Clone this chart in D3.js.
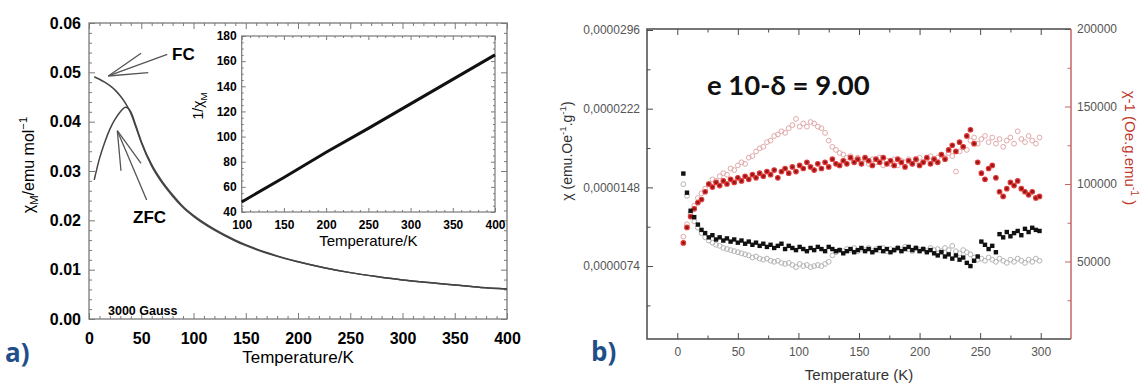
<!DOCTYPE html>
<html><head><meta charset="utf-8">
<script src="https://cdn.jsdelivr.net/npm/d3@7"></script>
<style>body{margin:0;background:#fff}</style>
</head><body>
<svg id="c" width="1142" height="383"></svg>
<script>
// ---------- Panel a data ----------
const tempA = [5,10,15,20,25,30,35,40,45,50,60,70,80,90,100,120,140,160,180,200,225,250,275,300,325,350,375,400];
const chiFC = [0.0491,0.0486,0.0480,0.0473,0.0464,0.0452,0.0437,0.0417,0.0388,0.0358,0.0310,0.0276,0.0249,0.0226,0.0208,0.0180,0.0158,0.0141,0.0127,0.0116,0.0104,0.0094,0.0086,0.0079,0.0074,0.0069,0.0064,0.0061];
const chiZFC = [0.0282,0.0325,0.0358,0.0385,0.0405,0.0420,0.0429,0.0420,0.0391,0.0360,0.0313,0.0279,0.0252,0.0228,0.0210,0.0182,0.0160,0.0142,0.0128,0.0116,0.0104,0.0094,0.0086,0.0079,0.0074,0.0069,0.0064,0.0061];
const tempInset = [100,150,200,250,300,350,400];
const invChiInset = [48,67.5,87.5,106.5,126,145.5,165];
const xTicksA = [0,50,100,150,200,250,300,350,400];
const yTicksA = [0,0.01,0.02,0.03,0.04,0.05,0.06];
const xTicksInset = [100,150,200,250,300,350,400];
const yTicksInset = [40,60,80,100,120,140,160,180];

// ---------- Panel b data ----------
const tempB = [5,8,11,14,17,20,23,26,29,32,35,38,41,44,47,50,53,56,59,62,65,68,71,74,77,80,83,86,89,92,95,98,101,104,107,110,113,116,119,122,125,128,131,134,137,140,143,146,149,152,155,158,161,164,167,170,173,176,179,182,185,188,191,194,197,200,203,206,209,212,215,218,221,224,227,230,233,236,239,242,245,248,251,254,257,260,263,266,269,272,275,278,281,284,287,290,293,296,299];
// chi^-1 (filled red)
const invChiB1 = [62000,72000,79000,84000,88000,90000,95000,100000,98000,101000,
 99000,102000,100000,103000,101000,104000,102000,105000,103000,106000,
 104000,107000,105000,108000,106000,109000,104000,108000,110000,107000,
 111000,108000,112000,110000,114000,111000,109000,113000,110000,114000,
 111000,116000,113000,112000,115000,113000,117000,114000,116000,113000,
 117000,115000,112000,116000,114000,117000,113000,115000,112000,116000,
 114000,111000,115000,113000,116000,112000,114000,117000,113000,116000,
 114000,119000,116000,122000,125000,121000,127000,124000,131000,135000,
 126000,114000,107000,103000,110000,112000,104000,95000,92000,97000,
 101000,99000,102000,97000,95000,93000,95000,91000,92000];
// chi^-1 (open pink)
const invChiB2 = [66000,74000,80000,86000,91000,94000,97000,100000,103000,102000,
 105000,107000,106000,110000,109000,112000,114000,113000,117000,118000,
 121000,123000,124000,127000,128000,131000,132000,134000,133000,136000,
 138000,142000,137000,139000,137000,140000,139000,137000,136000,133000,
 128000,124000,122000,120000,119000,117000,118000,115000,117000,114000,
 116000,113000,116000,114000,117000,112000,115000,113000,116000,112000,
 115000,114000,116000,113000,115000,117000,114000,116000,118000,115000,
 117000,119000,117000,120000,118000,108000,121000,124000,122000,128000,
 130000,126000,129000,131000,127000,130000,126000,129000,124000,128000,
 130000,126000,134000,129000,127000,131000,128000,126000,130000];
// chi (filled black)
const chiB1 = [1.61e-5,1.43e-5,1.26e-5,1.20e-5,1.13e-5,1.08e-5,1.05e-5,1.01e-5,1.03e-5,0.99e-5,
 1.01e-5,0.98e-5,1.00e-5,0.97e-5,0.99e-5,0.96e-5,0.98e-5,0.95e-5,0.97e-5,0.94e-5,
 0.96e-5,0.93e-5,0.95e-5,0.92e-5,0.94e-5,0.91e-5,0.93e-5,0.95e-5,0.90e-5,0.93e-5,
 0.91e-5,0.89e-5,0.92e-5,0.90e-5,0.88e-5,0.91e-5,0.89e-5,0.92e-5,0.90e-5,0.88e-5,
 0.92e-5,0.90e-5,0.88e-5,0.89e-5,0.86e-5,0.88e-5,0.90e-5,0.87e-5,0.89e-5,0.91e-5,
 0.88e-5,0.90e-5,0.87e-5,0.89e-5,0.91e-5,0.88e-5,0.90e-5,0.87e-5,0.89e-5,0.91e-5,
 0.88e-5,0.90e-5,0.92e-5,0.89e-5,0.91e-5,0.88e-5,0.90e-5,0.87e-5,0.89e-5,0.86e-5,
 0.84e-5,0.87e-5,0.83e-5,0.85e-5,0.81e-5,0.84e-5,0.80e-5,0.82e-5,0.77e-5,0.74e-5,
 0.79e-5,0.83e-5,0.97e-5,0.94e-5,0.90e-5,0.93e-5,0.87e-5,1.04e-5,1.01e-5,1.06e-5,
 1.02e-5,1.05e-5,1.07e-5,1.03e-5,1.09e-5,1.06e-5,1.10e-5,1.08e-5,1.07e-5];
// chi (open grey)
const chiB2 = [1.51e-5,1.40e-5,1.24e-5,1.16e-5,1.10e-5,1.05e-5,1.01e-5,0.98e-5,0.96e-5,0.94e-5,
 0.93e-5,0.91e-5,0.90e-5,0.89e-5,0.88e-5,0.87e-5,0.86e-5,0.85e-5,0.84e-5,0.82e-5,
 0.83e-5,0.81e-5,0.80e-5,0.81e-5,0.79e-5,0.78e-5,0.79e-5,0.77e-5,0.76e-5,0.77e-5,
 0.75e-5,0.73e-5,0.76e-5,0.74e-5,0.75e-5,0.73e-5,0.74e-5,0.75e-5,0.74e-5,0.76e-5,
 0.78e-5,0.84e-5,0.87e-5,0.89e-5,0.88e-5,0.90e-5,0.89e-5,0.91e-5,0.88e-5,0.90e-5,
 0.89e-5,0.91e-5,0.88e-5,0.90e-5,0.89e-5,0.91e-5,0.88e-5,0.90e-5,0.89e-5,0.91e-5,
 0.89e-5,0.92e-5,0.90e-5,0.88e-5,0.91e-5,0.89e-5,0.90e-5,0.88e-5,0.91e-5,0.89e-5,
 0.90e-5,0.88e-5,0.91e-5,0.89e-5,0.93e-5,0.88e-5,0.86e-5,0.89e-5,0.87e-5,0.85e-5,
 0.82e-5,0.80e-5,0.81e-5,0.79e-5,0.82e-5,0.80e-5,0.78e-5,0.81e-5,0.79e-5,0.77e-5,
 0.80e-5,0.78e-5,0.81e-5,0.79e-5,0.77e-5,0.80e-5,0.78e-5,0.81e-5,0.79e-5];
const xTicksB = [0,50,100,150,200,250,300];
const xMinorB = [25,75,125,175,225,275];
const yTicksBL = [0.0000074,0.0000148,0.0000222,0.0000296];
const yMinorBL = [0.0000037,0.0000111,0.0000185,0.0000259];
const yTicksBR = [50000,100000,150000,200000];
const yMinorBR = [25000,75000,125000,175000];

// ---------- drawing ----------
const svg = d3.select("#c");
svg.append("rect").attr("width",1142).attr("height",383).attr("fill","#fff");
const SANS = "'Liberation Sans', Arial, sans-serif";

function rich(textSel, parts, size){
  let cur = 0;
  parts.forEach(([s, kind]) => {
    const target = kind === "sup" ? -0.42*size : kind === "sub" ? 0.28*size : 0;
    const ts = textSel.append("tspan").attr("dy", target - cur).text(s);
    if (kind) ts.attr("font-size", size*0.7);
    cur = target;
  });
}
function styleAx(g, color, font, size, weight, txtColor){
  g.attr("font-family", font).attr("font-size", size).attr("font-weight", weight);
  g.select(".domain").remove();
  g.selectAll(".tick line").attr("stroke", color).attr("stroke-width", 1);
  g.selectAll(".tick text").attr("fill", txtColor || "#000");
}
function minorVals(a, b, step, skip){
  const out = [];
  for (let v = a; v <= b + 1e-9; v += step) {
    const r = Math.round(v/skip*1e6)/1e6;
    if (Math.abs(r - Math.round(r)) > 1e-6) out.push(+v.toFixed(6));
  }
  return out;
}

// ===== Panel a main =====
const xA = d3.scaleLinear().domain([0,400]).range([89,507]);
const yA = d3.scaleLinear().domain([0,0.06]).range([319,23]);
const gA = svg.append("g");
const fc = "#7a7a7a";
const xMinA = minorVals(0,400,10,50), yMinA = minorVals(0,0.06,0.002,0.01);

gA.append("g").attr("transform","translate(0,319)")
  .call(d3.axisBottom(xA).tickValues(xTicksA).tickSize(-6).tickPadding(14).tickFormat(d3.format("d")))
  .call(g=>styleAx(g,fc,SANS,16,"bold"));
gA.append("g").attr("transform","translate(0,319)")
  .call(d3.axisBottom(xA).tickValues(xMinA).tickSize(-3).tickFormat(""))
  .call(g=>styleAx(g,fc,SANS,16,"bold"));
gA.append("g").attr("transform","translate(0,23)")
  .call(d3.axisTop(xA).tickValues(xTicksA).tickSize(-6).tickFormat(""))
  .call(g=>styleAx(g,fc,SANS,16,"bold"));
gA.append("g").attr("transform","translate(0,23)")
  .call(d3.axisTop(xA).tickValues(xMinA).tickSize(-3).tickFormat(""))
  .call(g=>styleAx(g,fc,SANS,16,"bold"));
gA.append("g").attr("transform","translate(89,0)")
  .call(d3.axisLeft(yA).tickValues(yTicksA).tickSize(-6).tickPadding(8).tickFormat(d3.format(".2f")))
  .call(g=>styleAx(g,fc,SANS,16,"bold"));
gA.append("g").attr("transform","translate(89,0)")
  .call(d3.axisLeft(yA).tickValues(yMinA).tickSize(-3).tickFormat(""))
  .call(g=>styleAx(g,fc,SANS,16,"bold"));
gA.append("g").attr("transform","translate(507,0)")
  .call(d3.axisRight(yA).tickValues(yTicksA).tickSize(-6).tickFormat(""))
  .call(g=>styleAx(g,fc,SANS,16,"bold"));
gA.append("g").attr("transform","translate(507,0)")
  .call(d3.axisRight(yA).tickValues(yMinA).tickSize(-3).tickFormat(""))
  .call(g=>styleAx(g,fc,SANS,16,"bold"));
gA.append("rect").attr("x",xA(0)).attr("y",yA(0.06)).attr("width",xA(400)-xA(0)).attr("height",yA(0)-yA(0.06))
  .attr("fill","none").attr("stroke",fc).attr("stroke-width",1.3);

const lineA = d3.line().x(d=>xA(d[0])).y(d=>yA(d[1])).curve(d3.curveMonotoneX);
gA.append("path").attr("d", lineA(tempA.map((t,i)=>[t,chiZFC[i]]))).attr("fill","none").attr("stroke","#444").attr("stroke-width",1.5);
gA.append("path").attr("d", lineA(tempA.map((t,i)=>[t,chiFC[i]]))).attr("fill","none").attr("stroke","#444").attr("stroke-width",1.5);

// annotation arrows (data coords)
const fcArrow = [[18.5,0.04926],[[49.8,0.05386],[74.9,0.05366],[56.7,0.04993]]];
const zfcArrow = [[27.1,0.03817],[[30.6,0.03006],[55.2,0.02412],[49.8,0.03156]]];
[fcArrow, zfcArrow].forEach(([apex, ends]) => ends.forEach(e => {
  gA.append("line").attr("x1",xA(apex[0])).attr("y1",yA(apex[1])).attr("x2",xA(e[0])).attr("y2",yA(e[1]))
    .attr("stroke","#555").attr("stroke-width",1.3);
}));
gA.append("text").attr("x",172).attr("y",60).attr("font-family",SANS).attr("font-weight","bold").attr("font-size",17).text("FC");
gA.append("text").attr("x",133).attr("y",223).attr("font-family",SANS).attr("font-weight","bold").attr("font-size",17).text("ZFC");
gA.append("text").attr("x",108).attr("y",315).attr("font-family",SANS).attr("font-weight","bold").attr("font-size",12.5).text("3000 Gauss");

gA.append("text").attr("x",xA(200)).attr("y",363).attr("text-anchor","middle").attr("font-family",SANS).attr("font-size",17).text("Temperature/K");
const ytA = gA.append("text").attr("transform","translate(34,165) rotate(-90)").attr("text-anchor","middle")
  .attr("dy","0.35em").attr("font-family",SANS).attr("font-size",16);
rich(ytA, [["χ",0],["M","sub"],["/emu mol",0],["−1","sup"]], 16);

// ===== inset =====
const xI = d3.scaleLinear().domain([100,400]).range([241.7,495]);
const yI = d3.scaleLinear().domain([40,180]).range([212,36]);
const gI = svg.append("g");
const xMinI = minorVals(100,400,10,50), yMinI = minorVals(40,180,5,20);
gI.append("rect").attr("x",xI(100)).attr("y",yI(180)).attr("width",xI(400)-xI(100)).attr("height",yI(40)-yI(180)).attr("fill","#fff");
gI.append("g").attr("transform",`translate(0,${yI(40)})`)
  .call(d3.axisBottom(xI).tickValues(xTicksInset).tickSize(-4).tickPadding(8).tickFormat(d3.format("d")))
  .call(g=>styleAx(g,fc,SANS,12,"bold"));
gI.append("g").attr("transform",`translate(0,${yI(40)})`)
  .call(d3.axisBottom(xI).tickValues(xMinI).tickSize(-2).tickFormat(""))
  .call(g=>styleAx(g,fc,SANS,12,"bold"));
gI.append("g").attr("transform",`translate(0,${yI(180)})`)
  .call(d3.axisTop(xI).tickValues(xTicksInset).tickSize(-4).tickFormat(""))
  .call(g=>styleAx(g,fc,SANS,12,"bold"));
gI.append("g").attr("transform",`translate(0,${yI(180)})`)
  .call(d3.axisTop(xI).tickValues(xMinI).tickSize(-2).tickFormat(""))
  .call(g=>styleAx(g,fc,SANS,12,"bold"));
gI.append("g").attr("transform",`translate(${xI(100)},0)`)
  .call(d3.axisLeft(yI).tickValues(yTicksInset).tickSize(-4).tickPadding(5).tickFormat(d3.format("d")))
  .call(g=>styleAx(g,fc,SANS,12,"bold"));
gI.append("g").attr("transform",`translate(${xI(100)},0)`)
  .call(d3.axisLeft(yI).tickValues(yMinI).tickSize(-2).tickFormat(""))
  .call(g=>styleAx(g,fc,SANS,12,"bold"));
gI.append("g").attr("transform",`translate(${xI(400)},0)`)
  .call(d3.axisRight(yI).tickValues(yTicksInset).tickSize(-4).tickFormat(""))
  .call(g=>styleAx(g,fc,SANS,12,"bold"));
gI.append("g").attr("transform",`translate(${xI(400)},0)`)
  .call(d3.axisRight(yI).tickValues(yMinI).tickSize(-2).tickFormat(""))
  .call(g=>styleAx(g,fc,SANS,12,"bold"));
gI.append("rect").attr("x",xI(100)).attr("y",yI(180)).attr("width",xI(400)-xI(100)).attr("height",yI(40)-yI(180))
  .attr("fill","none").attr("stroke",fc).attr("stroke-width",1.2);
const lineI = d3.line().x(d=>xI(d[0])).y(d=>yI(d[1]));
gI.append("path").attr("d", lineI(tempInset.map((t,i)=>[t,invChiInset[i]]))).attr("fill","none").attr("stroke","#111").attr("stroke-width",3);
gI.append("text").attr("x",xI(250)).attr("y",246).attr("text-anchor","middle").attr("font-family",SANS).attr("font-size",15).text("Temperature/K");
const ytI = gI.append("text").attr("transform","translate(203,106) rotate(-90)").attr("text-anchor","middle")
  .attr("dy","0.35em").attr("font-family",SANS).attr("font-size",14);
rich(ytI, [["1/χ",0],["M","sub"]], 14);

// ===== Panel b =====
const xB = d3.scaleLinear().domain([-25,325]).range([647,1071]);
const yBL = d3.scaleLinear().domain([0.00000054,0.0000296]).range([339,30]);
const yBR = d3.scaleLinear().domain([0,200000]).range([339,29]);
const gB = svg.append("g");
const bc = "#4a4a4a", rc = "#c46464", lab = "#555";
const fmtL = d => d3.format(".7f")(d).replace(".", ",");

gB.append("g").attr("transform","translate(0,339)")
  .call(d3.axisBottom(xB).tickValues(xTicksB).tickSize(-6).tickPadding(8).tickFormat(d3.format("d")))
  .call(g=>styleAx(g,bc,SANS,12,"normal",lab));
gB.append("g").attr("transform","translate(0,339)")
  .call(d3.axisBottom(xB).tickValues(xMinorB).tickSize(-3.5).tickFormat(""))
  .call(g=>styleAx(g,bc,SANS,12,"normal",lab));
gB.append("g").attr("transform","translate(0,29)")
  .call(d3.axisTop(xB).tickValues(xTicksB).tickSize(-6).tickFormat(""))
  .call(g=>styleAx(g,bc,SANS,12,"normal",lab));
gB.append("g").attr("transform","translate(0,29)")
  .call(d3.axisTop(xB).tickValues(xMinorB).tickSize(-3.5).tickFormat(""))
  .call(g=>styleAx(g,bc,SANS,12,"normal",lab));
gB.append("g").attr("transform","translate(647,0)")
  .call(d3.axisLeft(yBL).tickValues(yTicksBL).tickSize(-6).tickPadding(7).tickFormat(fmtL))
  .call(g=>styleAx(g,bc,SANS,12,"normal",lab));
gB.append("g").attr("transform","translate(647,0)")
  .call(d3.axisLeft(yBL).tickValues(yMinorBL).tickSize(-3.5).tickFormat(""))
  .call(g=>styleAx(g,bc,SANS,12,"normal",lab));
gB.append("g").attr("transform","translate(1071,0)")
  .call(d3.axisRight(yBR).tickValues(yTicksBR).tickSize(-6).tickPadding(6).tickFormat(d3.format("d")))
  .call(g=>styleAx(g,rc,SANS,12,"normal",lab));
gB.append("g").attr("transform","translate(1071,0)")
  .call(d3.axisRight(yBR).tickValues(yMinorBR).tickSize(-3.5).tickFormat(""))
  .call(g=>styleAx(g,rc,SANS,12,"normal",lab));

// frame
gB.append("path").attr("d",`M1071,29H647V339H1071`).attr("fill","none").attr("stroke",bc).attr("stroke-width",1.5);
gB.append("line").attr("x1",1071).attr("x2",1071).attr("y1",29).attr("y2",339).attr("stroke",rc).attr("stroke-width",1.5);

// points
gB.append("g").selectAll("circle").data(tempB.map((t,i)=>[t,invChiB2[i]])).join("circle")
  .attr("cx",d=>xB(d[0])).attr("cy",d=>yBR(d[1])).attr("r",2.4)
  .attr("fill","none").attr("stroke","#e2a9a9").attr("stroke-width",1);
gB.append("g").selectAll("circle").data(tempB.map((t,i)=>[t,chiB2[i]])).join("circle")
  .attr("cx",d=>xB(d[0])).attr("cy",d=>yBL(d[1])).attr("r",2.4)
  .attr("fill","none").attr("stroke","#b4b4b4").attr("stroke-width",1);
gB.append("g").selectAll("circle").data(tempB.map((t,i)=>[t,invChiB1[i]])).join("circle")
  .attr("cx",d=>xB(d[0])).attr("cy",d=>yBR(d[1])).attr("r",2.3)
  .attr("fill","#9a1616").attr("stroke","#e23a3a").attr("stroke-width",1.1);
gB.append("g").selectAll("rect").data(tempB.map((t,i)=>[t,chiB1[i]])).join("rect")
  .attr("x",d=>xB(d[0])-2.2).attr("y",d=>yBL(d[1])-2.2).attr("width",4.4).attr("height",4.4)
  .attr("fill","#111");

// texts
gB.append("text").attr("x",707).attr("y",95).attr("font-family","Lato, 'Open Sans', sans-serif").attr("font-weight","bold")
  .attr("font-size",27.5).attr("fill","#111").text("e 10-δ = 9.00");
gB.append("text").attr("x",xB(150)).attr("y",380).attr("text-anchor","middle").attr("font-family",SANS).attr("font-size",15).attr("fill","#333").text("Temperature (K)");
const ytBL = gB.append("text").attr("transform","translate(572,151) rotate(-90)").attr("text-anchor","middle")
  .attr("dy","0.35em").attr("font-family",SANS).attr("font-size",14).attr("fill","#333");
rich(ytBL, [["χ (emu.Oe",0],["-1","sup"],[".g",0],["-1","sup"],[")",0]], 14);
const ytBR = gB.append("text").attr("transform","translate(1125,148) rotate(90)").attr("text-anchor","middle")
  .attr("dy","0.35em").attr("font-family",SANS).attr("font-size",15).attr("fill","#c0392b");
rich(ytBR, [["χ-1 (Oe.g.emu",0],["-1","sup"],[" )",0]], 15);

// panel labels
svg.append("text").attr("x",5).attr("y",362).attr("font-family","'Open Sans', sans-serif").attr("font-weight","bold")
  .attr("font-size",26).attr("fill","#1f4e8a").text("a)");
svg.append("text").attr("x",591).attr("y",361).attr("font-family","'Open Sans', sans-serif").attr("font-weight","bold")
  .attr("font-size",26).attr("fill","#1f4e8a").text("b)");
</script>
</body></html>
